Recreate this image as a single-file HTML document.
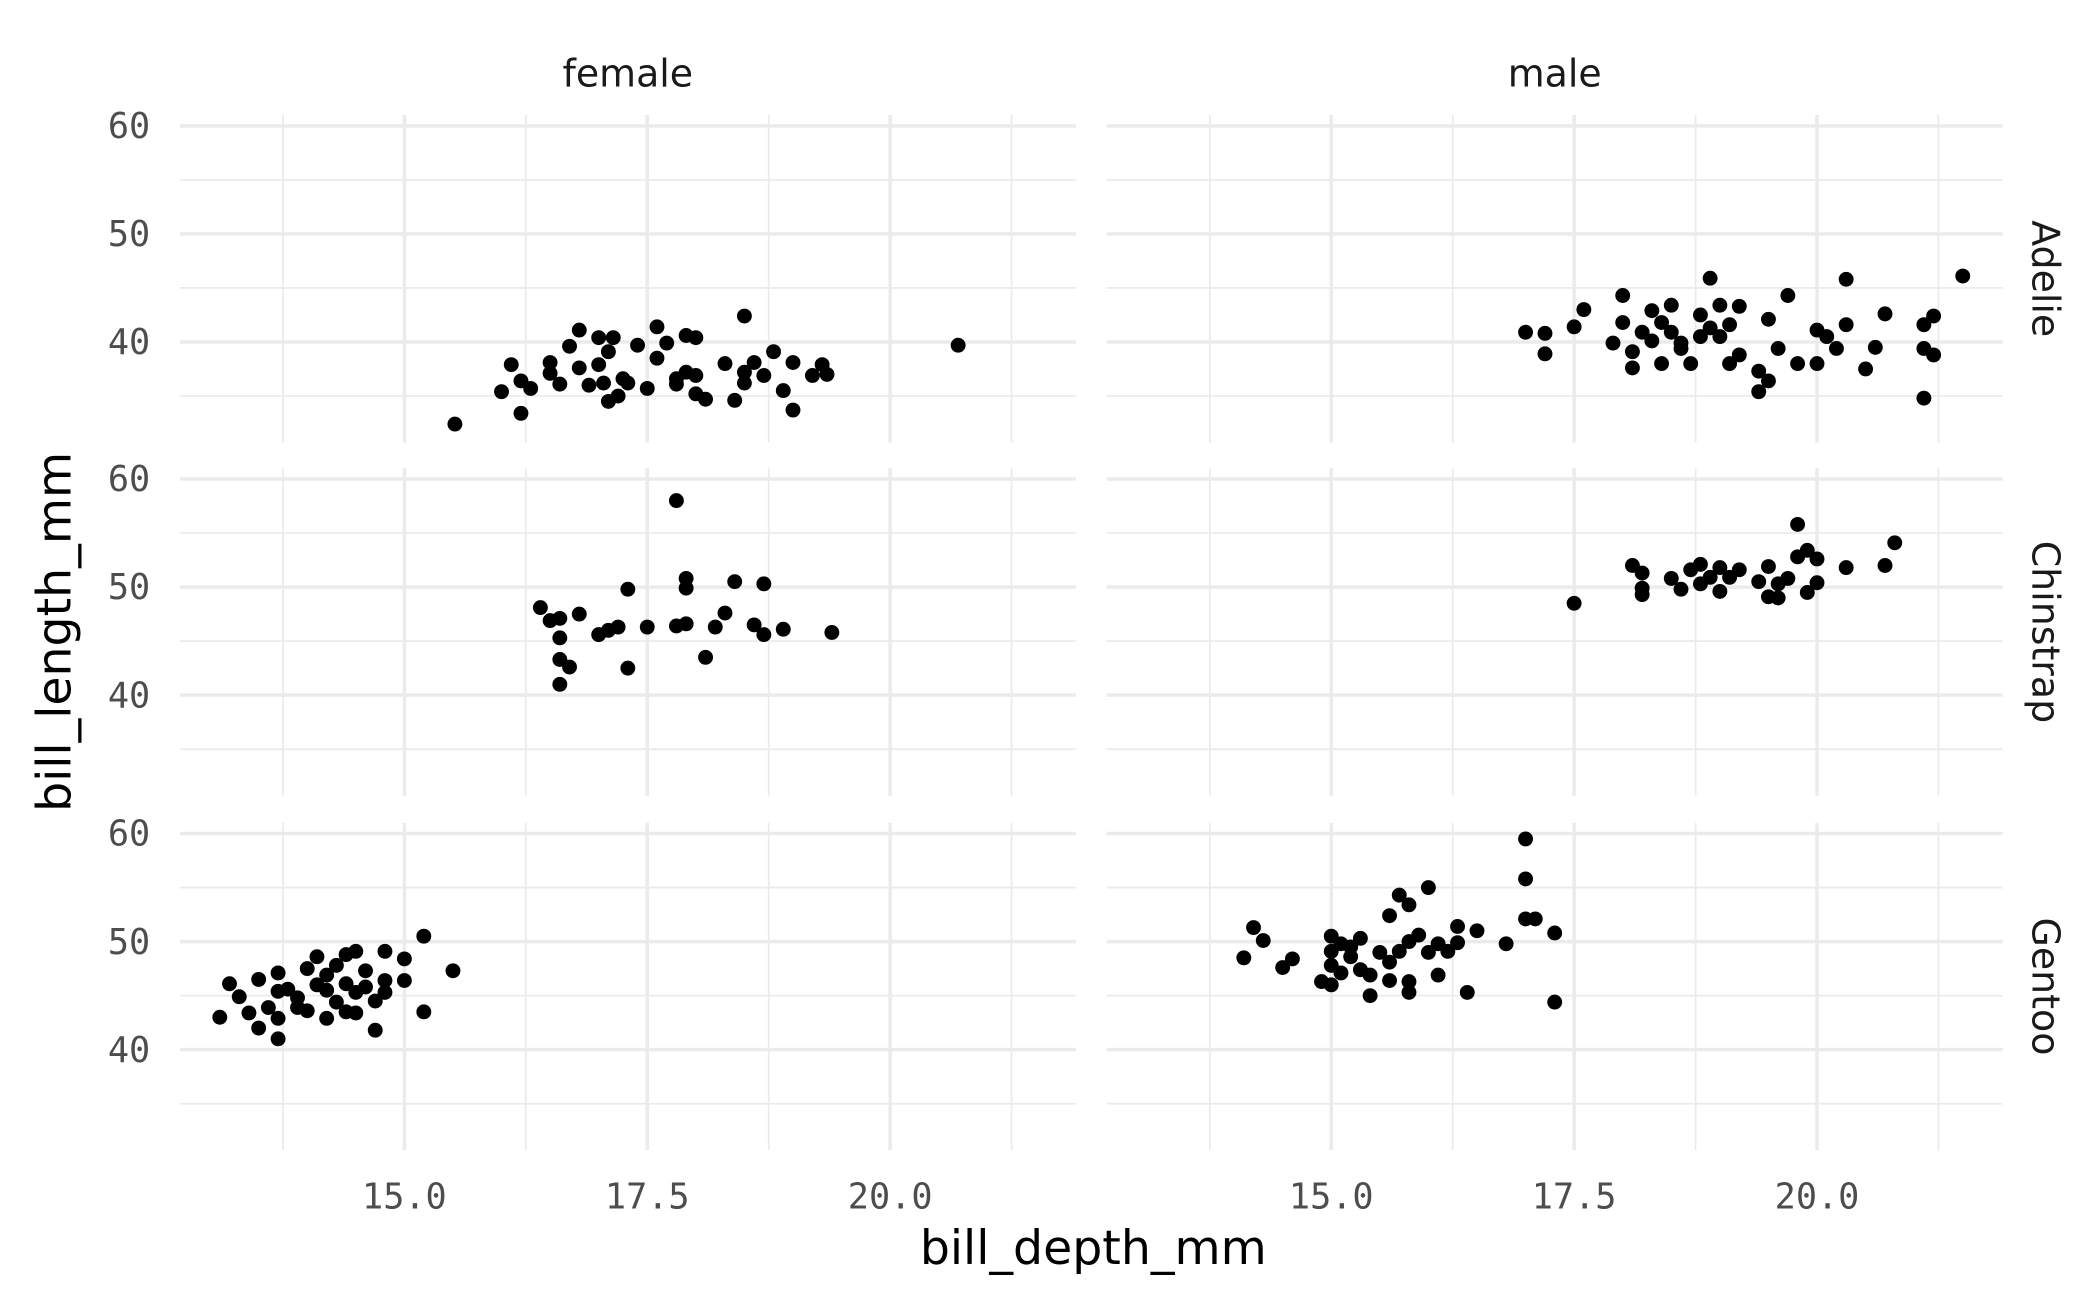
<!DOCTYPE html>
<html><head><meta charset="utf-8"><style>
html,body{margin:0;padding:0;background:#fff}
svg{display:block}
text{font-family:"DejaVu Sans","Liberation Sans",sans-serif}
.mono{font-family:"DejaVu Sans Mono","Liberation Mono",monospace}
</style></head><body>
<svg id="chart" width="2100" height="1297" viewBox="0 0 1552 958.5" preserveAspectRatio="none" xmlns="http://www.w3.org/2000/svg">
<rect width="1552" height="958.5" fill="#fff"/>
<text x="808" y="934" font-size="35" text-anchor="middle" fill="#000">bill_depth_mm</text>
<text x="0" y="0" font-size="35" text-anchor="middle" fill="#000" transform="translate(52,467) rotate(-90)">bill_length_mm</text>
</svg>
<script>
const sexes = ["female","male"];
const species = ["Adelie","Chinstrap","Gentoo"];
const xTicks = [15, 17.5, 20];
const xTickLabels = ["15.0","17.5","20.0"];
const xMinor = [13.75, 16.25, 18.75, 21.25];
const yTicks = [40, 50, 60];
const yTickLabels = ["40","50","60"];
const yMinor = [35, 45, 55];
const adelieFemaleX = [15.52,16.0,16.1,16.2,16.2,16.3,16.5,16.5,16.6,16.7,16.8,16.8,16.9,17.0,17.0,17.05,17.1,17.1,17.15,17.2,17.25,17.3,17.4,17.5,17.6,17.6,17.7,17.8,17.8,17.9,17.9,18.0,18.0,18.0,18.1,18.3,18.4,18.5,18.5,18.5,18.6,18.7,18.8,18.9,19.0,19.0,19.2,19.3,19.35,20.7];
const adelieFemaleY = [32.4,35.4,37.9,33.4,36.4,35.7,38.1,37.1,36.1,39.6,41.1,37.6,36.0,37.9,40.4,36.2,34.5,39.1,40.4,35.0,36.6,36.2,39.7,35.7,41.4,38.5,39.9,36.6,36.1,40.6,37.2,35.2,36.9,40.4,34.7,38.0,34.6,36.2,42.4,37.2,38.1,36.9,39.1,35.5,38.1,33.7,36.9,37.9,37.0,39.7];
const adelieMaleX = [17.0,17.2,17.2,17.5,17.6,17.9,18.0,18.0,18.1,18.1,18.2,18.3,18.3,18.4,18.4,18.5,18.5,18.6,18.6,18.7,18.8,18.8,18.9,18.9,19.0,19.0,19.1,19.1,19.2,19.2,19.4,19.4,19.5,19.5,19.6,19.7,19.8,20.0,20.0,20.1,20.2,20.3,20.3,20.5,20.6,20.7,21.1,21.1,21.1,21.2,21.2,21.5];
const adelieMaleY = [40.9,40.8,38.9,41.4,43.0,39.9,44.3,41.8,39.1,37.6,40.9,42.9,40.1,41.8,38.0,43.4,40.9,39.9,39.4,38.0,42.5,40.5,45.9,41.3,43.4,40.5,38.0,41.6,43.3,38.8,37.3,35.4,42.1,36.4,39.4,44.3,38.0,41.1,38.0,40.5,39.4,45.8,41.6,37.5,39.5,42.6,41.6,34.8,39.4,42.4,38.8,46.1];
const chinFemaleX = [16.4,16.5,16.6,16.6,16.6,16.6,16.7,16.8,17.0,17.1,17.2,17.3,17.3,17.5,17.8,17.8,17.9,17.9,17.9,18.1,18.2,18.3,18.4,18.6,18.7,18.7,18.9,19.4];
const chinFemaleY = [48.1,46.9,47.1,45.3,43.3,41.0,42.6,47.5,45.6,46.0,46.3,49.8,42.5,46.3,58.0,46.4,50.8,49.9,46.6,43.5,46.3,47.6,50.5,46.5,45.6,50.3,46.1,45.8];
const chinMaleX = [17.5,18.1,18.2,18.2,18.2,18.5,18.6,18.7,18.8,18.8,18.9,19.0,19.0,19.1,19.2,19.4,19.5,19.5,19.6,19.6,19.7,19.8,19.8,19.9,19.9,20.0,20.0,20.3,20.7,20.8];
const chinMaleY = [48.5,52.0,51.3,49.3,49.9,50.8,49.8,51.6,50.3,52.1,50.9,51.8,49.6,50.9,51.6,50.5,51.9,49.1,49.0,50.3,50.8,55.8,52.8,53.4,49.5,50.4,52.6,51.8,52.0,54.1];
const gentooFemaleX = [13.1,13.2,13.3,13.4,13.5,13.5,13.6,13.7,13.7,13.7,13.7,13.8,13.9,13.9,14.0,14.0,14.1,14.1,14.2,14.2,14.2,14.3,14.3,14.4,14.4,14.4,14.5,14.5,14.5,14.6,14.6,14.7,14.7,14.8,14.8,14.8,15.0,15.0,15.2,15.2,15.5];
const gentooFemaleY = [43.0,46.1,44.9,43.4,46.5,42.0,43.9,45.4,41.0,47.1,42.9,45.6,43.9,44.8,47.5,43.6,48.6,46.0,46.9,42.9,45.5,47.8,44.4,48.8,43.5,46.1,45.3,43.4,49.1,47.3,45.8,41.8,44.5,49.1,46.4,45.3,48.4,46.4,43.5,50.5,47.3];
const gentooMaleX = [14.1,14.2,14.3,14.5,14.6,14.9,15.0,15.0,15.0,15.0,15.1,15.1,15.2,15.2,15.3,15.3,15.4,15.4,15.5,15.6,15.6,15.6,15.7,15.7,15.8,15.8,15.8,15.8,15.9,16.0,16.0,16.1,16.1,16.2,16.3,16.3,16.4,16.5,16.8,17.0,17.0,17.0,17.1,17.3,17.3];
const gentooMaleY = [48.5,51.3,50.1,47.6,48.4,46.3,50.5,49.1,47.8,46.0,49.8,47.1,48.6,49.5,50.3,47.4,46.9,45.0,49.0,52.4,48.1,46.4,54.3,49.1,53.4,45.3,50.0,46.3,50.6,55.0,49.0,49.8,46.9,49.1,51.4,49.9,45.3,51.0,49.8,59.5,55.8,52.1,52.1,50.8,44.4];

const panelX = [133, 818], panelW = 662;
const panelY = [85, 346, 608], panelH = 242;
const xDom = [12.69, 21.91], yDom = [30.7, 61.0];
const NS = "http://www.w3.org/2000/svg";
const svg = document.getElementById('chart');
function mk(tag, attrs){const e=document.createElementNS(NS,tag);for(const k in attrs)e.setAttribute(k,attrs[k]);return e;}
function sx(c,v){return panelX[c] + (v-xDom[0])/(xDom[1]-xDom[0])*panelW;}
function sy(r,v){return panelY[r] + panelH - (v-yDom[0])/(yDom[1]-yDom[0])*panelH;}
const data = [[[adelieFemaleX,adelieFemaleY],[adelieMaleX,adelieMaleY]],
              [[chinFemaleX,chinFemaleY],[chinMaleX,chinMaleY]],
              [[gentooFemaleX,gentooFemaleY],[gentooMaleX,gentooMaleY]]];

for(let r=0;r<3;r++){
  for(let c=0;c<2;c++){
    const g = mk('g',{});
    
    
    const x0=panelX[c], x1=x0+panelW, y0=panelY[r], y1=y0+panelH;
    xMinor.forEach(v=>{const l=mk('line',{x1:sx(c,v),x2:sx(c,v),y1:y0,y2:y1,stroke:'#ebebeb','stroke-width':1.3});
      
      
      g.appendChild(l);});
    yMinor.forEach(v=>{const l=mk('line',{x1:x0,x2:x1,y1:sy(r,v),y2:sy(r,v),stroke:'#ebebeb','stroke-width':1.3});
      
      
      g.appendChild(l);});
    xTicks.forEach(v=>{const l=mk('line',{x1:sx(c,v),x2:sx(c,v),y1:y0,y2:y1,stroke:'#ebebeb','stroke-width':2.6});
      
      
      g.appendChild(l);});
    yTicks.forEach(v=>{const l=mk('line',{x1:x0,x2:x1,y1:sy(r,v),y2:sy(r,v),stroke:'#ebebeb','stroke-width':2.6});
      
      
      g.appendChild(l);});
    const [xs,ys]=data[r][c];
    for(let i=0;i<xs.length;i++){
      const p=mk('circle',{cx:sx(c,xs[i]),cy:sy(r,ys[i]),r:5.5,fill:'#000'});
      
      
      g.appendChild(p);
    }
    svg.appendChild(g);
  }
  yTicks.forEach((v,i)=>{const t=mk('text',{x:111,y:sy(r,v)+9,'font-size':26,'text-anchor':'end',fill:'#4d4d4d','class':'mono'});
    t.textContent=yTickLabels[i];
    
    
    svg.appendChild(t);});
  const st=mk('text',{x:0,y:0,'font-size':28,'text-anchor':'middle',fill:'#1a1a1a',transform:'translate(1502,'+(panelY[r]+panelH/2)+') rotate(90)'});
  st.textContent=species[r];
  
  
  svg.appendChild(st);
}
for(let c=0;c<2;c++){
  const st=mk('text',{x:panelX[c]+panelW/2,y:64,'font-size':28,'text-anchor':'middle',fill:'#1a1a1a'});
  st.textContent=sexes[c];
  
  
  svg.appendChild(st);
  xTicks.forEach((v,i)=>{const t=mk('text',{x:sx(c,v),y:893,'font-size':26,'text-anchor':'middle',fill:'#4d4d4d','class':'mono'});
    t.textContent=xTickLabels[i];
    
    
    svg.appendChild(t);});
}
</script>
</body></html>
